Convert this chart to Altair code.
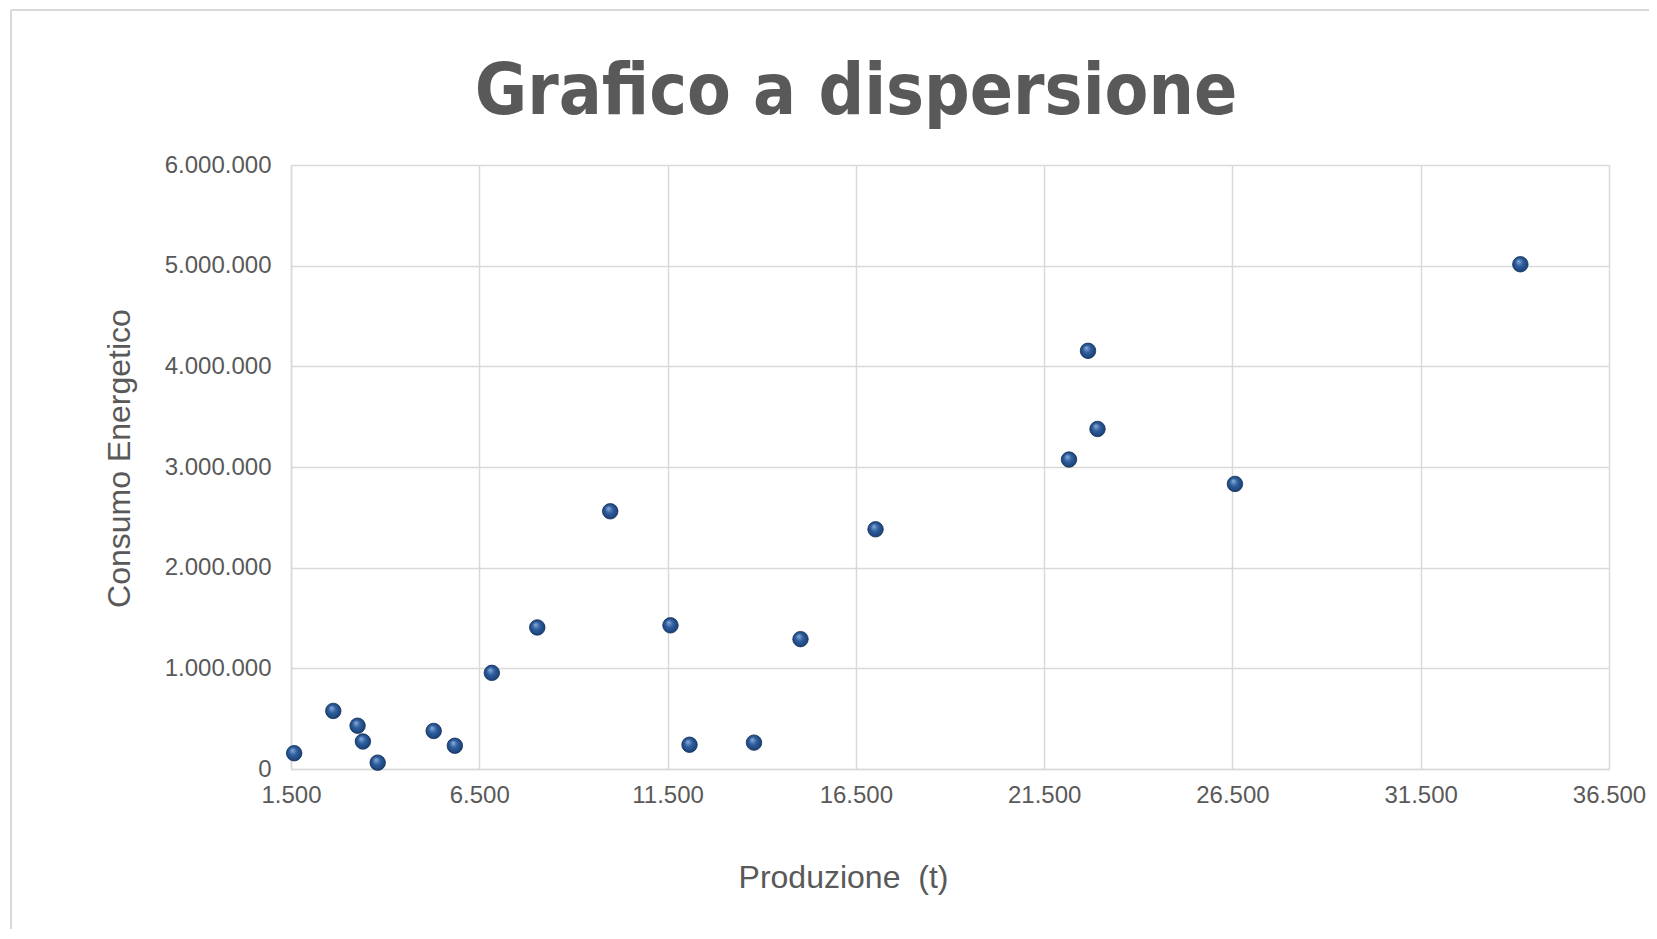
import altair as alt
import pandas as pd

produzione = [1584, 2623, 3268, 3409, 3802, 5289, 5851, 6833, 8040, 9977,
              11577, 12083, 13795, 15030, 17023, 22160, 22665, 22917, 26567, 34146]
consumo = [157000, 577000, 430000, 273000, 63000, 378000, 231000, 955000, 1406000, 2560000,
           1427000, 241000, 262000, 1290000, 2381000, 3074000, 4154000, 3378000, 2832000, 5014000]

x_ticks = [1500, 6500, 11500, 16500, 21500, 26500, 31500, 36500]
y_ticks = [0, 1000000, 2000000, 3000000, 4000000, 5000000, 6000000]

titolo = ["Grafico a dispersione"]

df = pd.DataFrame({"Produzione": produzione, "Consumo": consumo})

W, H = 1318, 604
grid = "#d9d9d9"
txt = "#595959"

sphere = alt.RadialGradient(
    gradient="radial",
    x1=0.38, y1=0.3, r1=0.0,
    x2=0.5, y2=0.5, r2=0.55,
    stops=[
        alt.GradientStop(color="#8fb0dd", offset=0.0),
        alt.GradientStop(color="#2f5f9f", offset=0.45),
        alt.GradientStop(color="#173b6e", offset=1.0),
    ],
)

points = alt.Chart(df).mark_point(
    filled=True, shape="circle", size=240, fill=sphere, opacity=1,
    stroke="#12305a", strokeWidth=0.8,
).encode(
    x=alt.X("Produzione:Q",
            scale=alt.Scale(domain=[1500, 36500], nice=False, zero=False),
            axis=alt.Axis(values=x_ticks, format=",d", title="Produzione\u00a0 (t)",
                          titlePadding=55, labelPadding=14, labelFlush=False,
                          titleX=W / 2 - 107)),
    y=alt.Y("Consumo:Q",
            scale=alt.Scale(domain=[0, 6000000], nice=False),
            axis=alt.Axis(values=y_ticks, format=",d", title="Consumo Energetico",
                          titlePadding=28, labelPadding=20, labelFlush=False,
                          titleY=H / 2 - 9)),
)

frame_top = alt.Chart(df).mark_rule(color=grid, strokeWidth=2).encode(
    x=alt.value(-280), x2=alt.value(W + 60), y=alt.value(-155)
)
frame_left = alt.Chart(df).mark_rule(color=grid, strokeWidth=2).encode(
    x=alt.value(-280), y=alt.value(-155), y2=alt.value(H + 170)
)

title_df = pd.DataFrame({"t": titolo})
title = alt.Chart(title_df).mark_text(
    font="DejaVu Sans Condensed, Liberation Sans Narrow, Liberation Sans",
    fontSize=71, fontWeight="bold",
    color=txt, align="center", baseline="alphabetic",
).encode(
    text="t:N", x=alt.value(565), y=alt.value(-51)
)

chart = alt.layer(frame_top, frame_left, points, title).properties(
    width=W, height=H,
    padding={"left": 283, "top": 157, "right": 40, "bottom": 160},
    autosize=alt.AutoSizeParams(type="none"),
).configure(
    locale=alt.Locale(number=alt.NumberLocale(decimal=",", thousands=".",
                                              grouping=[3], currency=["", " €"])),
    background="white",
).configure_view(
    stroke=None,
).configure_axis(
    grid=True, gridColor=grid, gridWidth=1.5,
    domainColor=grid, domainWidth=1.5,
    ticks=False,
    labelFont="Liberation Sans", labelFontSize=24, labelColor=txt,
    titleFont="Liberation Sans", titleFontSize=32, titleColor=txt, titleFontWeight="normal",
)

chart.save("out.html", embed_options={"renderer": "svg", "actions": False})
